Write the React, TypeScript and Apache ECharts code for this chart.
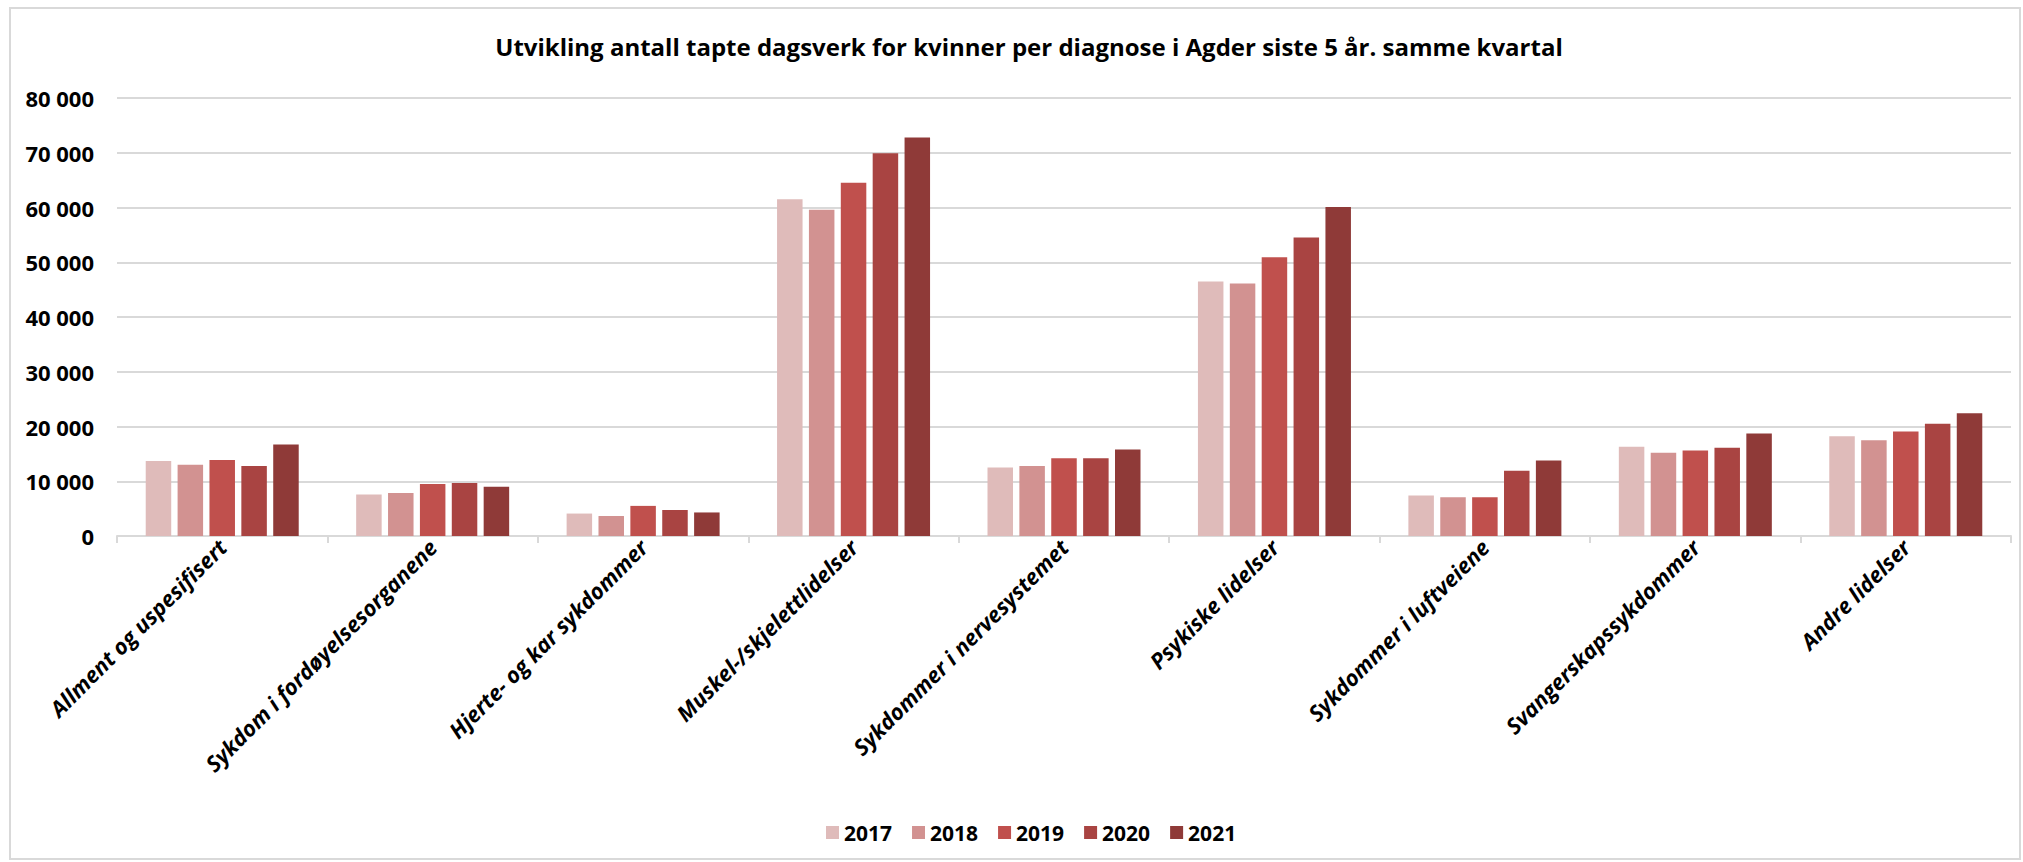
import React, { useEffect, useRef } from "react";
import * as echarts from "echarts";

const TITLE = "Utvikling antall tapte dagsverk for kvinner per diagnose i Agder siste 5 år. samme kvartal";

const categories = [
  "Allment og uspesifisert",
  "Sykdom i fordøyelsesorganene",
  "Hjerte- og kar sykdommer",
  "Muskel-/skjelettlidelser",
  "Sykdommer i nervesystemet",
  "Psykiske lidelser",
  "Sykdommer i luftveiene",
  "Svangerskapssykdommer",
  "Andre lidelser",
];

const years = ["2017", "2018", "2019", "2020", "2021"];

const v2017 = [13700, 7600, 4100, 61500, 12500, 46500, 7400, 16300, 18200];
const v2018 = [13000, 7850, 3650, 59600, 12800, 46100, 7100, 15200, 17500];
const v2019 = [13900, 9500, 5500, 64500, 14200, 50900, 7100, 15600, 19100];
const v2020 = [12800, 9700, 4750, 69900, 14200, 54500, 11900, 16100, 20500];
const v2021 = [16700, 9000, 4300, 72800, 15800, 60100, 13800, 18700, 22400];

const seriesValues = [v2017, v2018, v2019, v2020, v2021];
const colors = ["#DFBBBA", "#D29291", "#C0504D", "#A94442", "#8F3A38"];

const yMin = 0;
const yMax = 80000;
const yInterval = 10000;

const FONT = "'Open Sans', 'Noto Sans', sans-serif";

function fmt(v: number): string {
  return String(v).replace(/\B(?=(\d{3})+(?!\d))/g, " ");
}

export default function App() {
  const ref = useRef<HTMLDivElement>(null);

  useEffect(() => {
    if (!ref.current) return;
    const chart = echarts.init(ref.current, null, { renderer: "svg" });
    chart.setOption({
      animation: false,
      backgroundColor: "#ffffff",
      title: {
        text: TITLE,
        left: 1024,
        top: 29,
        textAlign: "center",
        textStyle: {
          fontFamily: FONT,
          fontWeight: "bold",
          fontSize: 24,
          color: "#000000",
        },
      },
      graphic: [
        {
          type: "rect",
          shape: { x: 10, y: 8, width: 2010, height: 851 },
          style: { fill: "none", stroke: "#D9D9D9", lineWidth: 2 },
          silent: true,
          z: 100,
        },
      ],
      legend: {
        data: years,
        left: 821,
        top: 817,
        itemWidth: 13,
        itemHeight: 13,
        itemGap: 20,
        icon: "rect",
        textStyle: {
          fontFamily: FONT,
          fontWeight: "bold",
          fontSize: 21,
          color: "#000000",
        },
      },
      grid: {
        left: 117,
        right: 12,
        top: 98,
        bottom: 326,
        containLabel: false,
      },
      xAxis: {
        type: "category",
        data: categories,
        boundaryGap: true,
        axisLine: { show: true, lineStyle: { color: "#D9D9D9", width: 2 } },
        axisTick: { show: true, length: 7, lineStyle: { color: "#D9D9D9", width: 2 } },
        axisLabel: {
          rotate: 45,
          interval: 0,
          margin: 7,
          fontFamily: FONT,
          fontWeight: "bold",
          fontStyle: "italic",
          fontSize: 22,
          color: "#000000",
        },
      },
      yAxis: {
        type: "value",
        min: yMin,
        max: yMax,
        interval: yInterval,
        axisLine: { show: false },
        axisTick: { show: false },
        splitLine: { show: true, lineStyle: { color: "#D9D9D9", width: 2 } },
        axisLabel: {
          margin: 23,
          fontFamily: FONT,
          fontWeight: "bold",
          fontSize: 22,
          color: "#000000",
          formatter: (v: number) => fmt(v),
        },
      },
      series: years.map((y, i) => ({
        name: y,
        type: "bar",
        data: seriesValues[i],
        barWidth: 25.5,
        barGap: "25%",
        itemStyle: { color: colors[i] },
      })),
    });
    return () => chart.dispose();
  }, []);

  return (
    <div
      ref={ref}
      style={{ position: "fixed", left: 0, top: 0, width: 2023, height: 862, background: "#fff" }}
    />
  );
}
